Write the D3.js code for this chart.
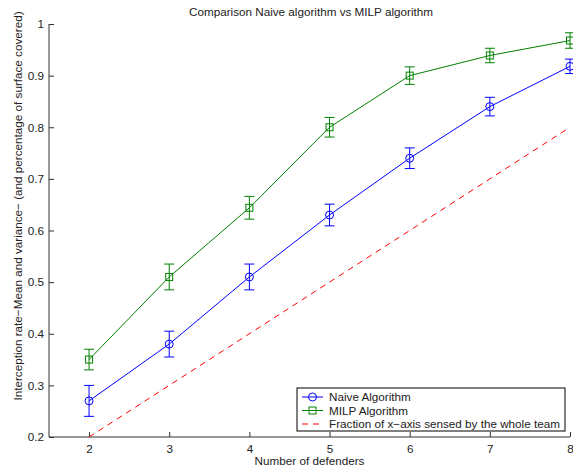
<!DOCTYPE html>
<html><head><meta charset="utf-8">
<script src="https://cdn.jsdelivr.net/npm/d3@7"></script>
<style>body{margin:0;background:#fff}text{font-family:"Liberation Sans",Arial,sans-serif}</style>
</head><body><svg id="c" width="573" height="468"></svg>
<script>
const defenders = [2,3,4,5,6,7,8];
const naiveMean = [0.27,0.38,0.51,0.63,0.74,0.84,0.918];
const naiveErr  = [0.03,0.025,0.025,0.021,0.02,0.018,0.014];
const milpMean  = [0.35,0.51,0.644,0.80,0.90,0.939,0.968];
const milpErr   = [0.02,0.025,0.022,0.019,0.017,0.014,0.015];
const fractionX = [2,8];
const fractionY = [0.2,0.8];
const yTicks = [0.2,0.3,0.4,0.5,0.6,0.7,0.8,0.9,1];
const xTicks = [2,3,4,5,6,7,8];
const legendLabels = ["Naive Algorithm","MILP Algorithm","Fraction of x\u2212axis sensed by the whole team"];

const FS = 11.7;
const svg = d3.select("#c");
const L=49,R=570,T=24,B=437;
const x = d3.scaleLinear().domain([1.5,8]).range([L,R]);
const y = d3.scaleLinear().domain([0.2,1]).range([B,T]);

// axes
const ax = svg.append("g").attr("transform",`translate(0,${B})`)
  .call(d3.axisBottom(x).tickValues(xTicks).tickSize(-5).tickPadding(8).tickFormat(d3.format("d")));
const ay = svg.append("g").attr("transform",`translate(${L},0)`)
  .call(d3.axisLeft(y).tickValues(yTicks).tickSize(-5).tickPadding(5).tickFormat(d=>d===1?"1":d3.format(".1f")(d)));
[ax,ay].forEach(g=>{
  g.select(".domain").attr("stroke","#333").attr("stroke-width",1);
  g.selectAll(".tick line").attr("stroke","#333");
  g.selectAll("text").attr("font-size",FS).attr("fill","#222").style("font-family","Liberation Sans, Arial, sans-serif");
});
ay.select(".domain").attr("d",`M0,${B}V${T}`);
ax.select(".domain").attr("d",`M${L},0H${R}`);

// red dashed
svg.append("path").datum(fractionX.map((d,i)=>[d,fractionY[i]]))
  .attr("d",d3.line().x(d=>x(d[0])).y(d=>y(d[1])))
  .attr("fill","none").attr("stroke","#ff0000").attr("stroke-width",1).attr("stroke-dasharray","6,5");

function series(mean, err, color, marker){
  const g = svg.append("g");
  const pts = defenders.map((d,i)=>({x:d,m:mean[i],e:err[i]}));
  g.append("path").datum(pts).attr("d",d3.line().x(d=>x(d.x)).y(d=>y(d.m)))
    .attr("fill","none").attr("stroke",color).attr("stroke-width",1);
  pts.forEach(p=>{
    const cx=x(p.x), y1=y(p.m+p.e), y2=y(p.m-p.e);
    g.append("path").attr("d",`M${cx},${y1}V${y2}M${cx-5},${y1}H${cx+5}M${cx-5},${y2}H${cx+5}`)
      .attr("stroke",color).attr("stroke-width",1).attr("fill","none");
    drawMarker(g,marker,cx,y(p.m),color);
  });
}
function drawMarker(g,marker,cx,cy,color){
  if(marker==="o") g.append("circle").attr("cx",cx).attr("cy",cy).attr("r",4).attr("fill","none").attr("stroke",color);
  else g.append("rect").attr("x",cx-3.5).attr("y",cy-3.5).attr("width",7).attr("height",7).attr("fill","none").attr("stroke",color);
}
series(naiveMean,naiveErr,"#0000ff","o");
series(milpMean,milpErr,"#008000","s");

// title and labels
svg.append("text").attr("x",311).attr("y",16).attr("text-anchor","middle").attr("font-size",FS).attr("fill","#222")
  .text("Comparison Naive algorithm vs MILP algorithm");
svg.append("text").attr("x",309.5).attr("y",465).attr("text-anchor","middle").attr("font-size",FS).attr("fill","#222")
  .text("Number of defenders");
svg.append("text").attr("transform","translate(22,206) rotate(-90)").attr("text-anchor","middle").attr("font-size",FS).attr("fill","#222")
  .text("Interception rate\u2212Mean and variance\u2212 (and percentage of surface covered)");

// legend
const lg = svg.append("g");
lg.append("rect").attr("x",297).attr("y",388).attr("width",268).attr("height",43).attr("fill","#fff").attr("stroke","#000");
const colors=["#0000ff","#008000","#ff0000"];
legendLabels.forEach((t,i)=>{
  const ly=397+i*13.5;
  const l=lg.append("line").attr("x1",302).attr("x2",323).attr("y1",ly).attr("y2",ly).attr("stroke",colors[i]);
  if(i===2) l.attr("stroke-dasharray","6,5");
  else drawMarker(lg,i===0?"o":"s",312.5,ly,colors[i]);
  lg.append("text").attr("x",329).attr("y",ly+4).attr("font-size",FS).attr("fill","#222").text(t);
});
</script></body></html>
